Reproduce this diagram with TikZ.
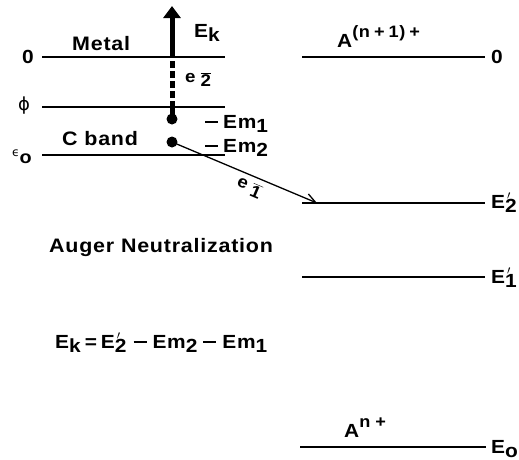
\documentclass[tikz,border=0pt]{standalone}
\usepackage{fontspec}
\setmainfont{Liberation Sans}[LetterSpace=4,FakeStretch=1.1]
\newfontfamily\dvs{DejaVu Sans}
\usetikzlibrary{arrows.meta}
\newcommand\lowsub[1]{\raisebox{-4pt}{#1}}
\newcommand\hisup[1]{\raisebox{10pt}{\fontsize{16.5}{16.5}\selectfont #1}}
\newcommand\primesub[1]{\rlap{\raisebox{9pt}{\kern2pt\normalfont\fontsize{12}{12}\selectfont$\prime$}}\lowsub{#1}}
\newcommand\barred[1]{$\overline{\mbox{\bfseries #1}}$}
\newcommand\mdash{\rule[5.5pt]{13pt}{1.8pt}}
\begin{document}
\begin{tikzpicture}[x=1pt,y=-1pt,
  lvl/.style={line width=1.3pt},
  big/.style={font=\bfseries\fontsize{19.5}{22}\selectfont, inner sep=0pt, anchor=base west},
  lbl/.style={font=\bfseries\fontsize{19}{22}\selectfont, inner sep=0pt, anchor=base west},
  elab/.style={font=\bfseries\fontsize{17}{20}\selectfont, inner sep=0pt},
  dotnode/.style={circle, fill, minimum size=11pt, inner sep=0pt}]
\useasboundingbox (0,0) rectangle (519,459);
% left levels
\coordinate (LZa) at (42,57);  \coordinate (LZb) at (225,57);
\coordinate (LPa) at (42,107); \coordinate (LPb) at (225,107);
\coordinate (LEa) at (42,155); \coordinate (LEb) at (225,155);
\draw[lvl] (LZa) -- (LZb);
\draw[lvl] (LPa) -- (LPb);
\draw[lvl] (LEa) -- (LEb);
% right levels
\coordinate (RZa) at (302,57);  \coordinate (RZb) at (485,57);
\coordinate (R2a) at (302,203); \coordinate (R2b) at (485,203);
\coordinate (R1a) at (302,277); \coordinate (R1b) at (485,277);
\coordinate (ROa) at (300,447); \coordinate (ROb) at (486,447);
\draw[lvl] (RZa) -- (RZb);
\draw[lvl] (R2a) -- (R2b);
\draw[lvl] (R1a) -- (R1b);
\draw[lvl] (ROa) -- (ROb);
% electrons
\node[dotnode] (d1) at (172,119) {};
\node[dotnode] (d2) at (172,142) {};
\coordinate (shaftbase) at (172,57);
\coordinate (tip) at (172,6);
\coordinate (dashtop) at (172,61);
\coordinate (dashbot) at (172,104);
\coordinate (e1tip) at (317,203);
\draw[line width=5pt, -{Triangle[length=12pt,width=17pt]}] (shaftbase) -- (tip);
\draw[line width=5pt, dash pattern=on 6.5pt off 3.5pt] (dashtop) -- (dashbot);
\draw[line width=5pt] (dashbot) -- (d1.center);
\draw[line width=1.3pt, -{Straight Barb[length=10pt,width=10pt]}] (d2.center) -- (e1tip);
% labels left
\node[lbl] (l0) at (22,63) {0};
\node[inner sep=0pt, font=\dvs\fontsize{18}{22}\selectfont] (lphi) at (24,106) {ϕ};
\node[lbl] (leps) at (12,163) {\raisebox{7pt}{\normalfont\dvs\fontsize{12}{12}\selectfont ϵ}\kern0pt\fontsize{18}{20}\selectfont o};
\node[big] (metal) at (72,50) {Metal};
\node[big] (cband) at (62,145) {C band};
\node[lbl] (ek) at (194,37) {E\lowsub{k}};
\node[elab, anchor=base west] (e2) at (185,82) {e\hspace{5pt}\lowsub{\barred{2}}};
\node[lbl] (em1) at (205,128) {\mdash\hspace{5pt}Em\lowsub{1}};
\node[lbl] (em2) at (205,152) {\mdash\hspace{5pt}Em\lowsub{2}};
\node[elab, rotate=-23] (e1) at (249,188) {e\hspace{5pt}\lowsub{\barred{1}}};
% labels right
\node[lbl] (aup) at (337,47) {A\hisup{(n\hspace{4pt}+\hspace{4pt}1)\hspace{4pt}+}};
\node[lbl] (r0) at (491,63) {0};
\node[lbl] (rE2) at (491,208) {E\primesub{2}};
\node[lbl] (rE1) at (491,283) {E\primesub{1}};
\node[lbl] (rEo) at (491,453) {E\lowsub{o}};
\node[lbl] (adown) at (344,437) {A\hisup{n\hspace{5pt}+}};
% captions
\node[big] (auger) at (49,252) {Auger Neutralization};
\node[lbl] (eq) at (55,348) {E\lowsub{k}\hspace{4pt}=\hspace{4pt}E\primesub{2}\hspace{7pt}\mdash\hspace{6pt}Em\lowsub{2}\hspace{6pt}\mdash\hspace{6pt}Em\lowsub{1}};
\end{tikzpicture}
\end{document}
